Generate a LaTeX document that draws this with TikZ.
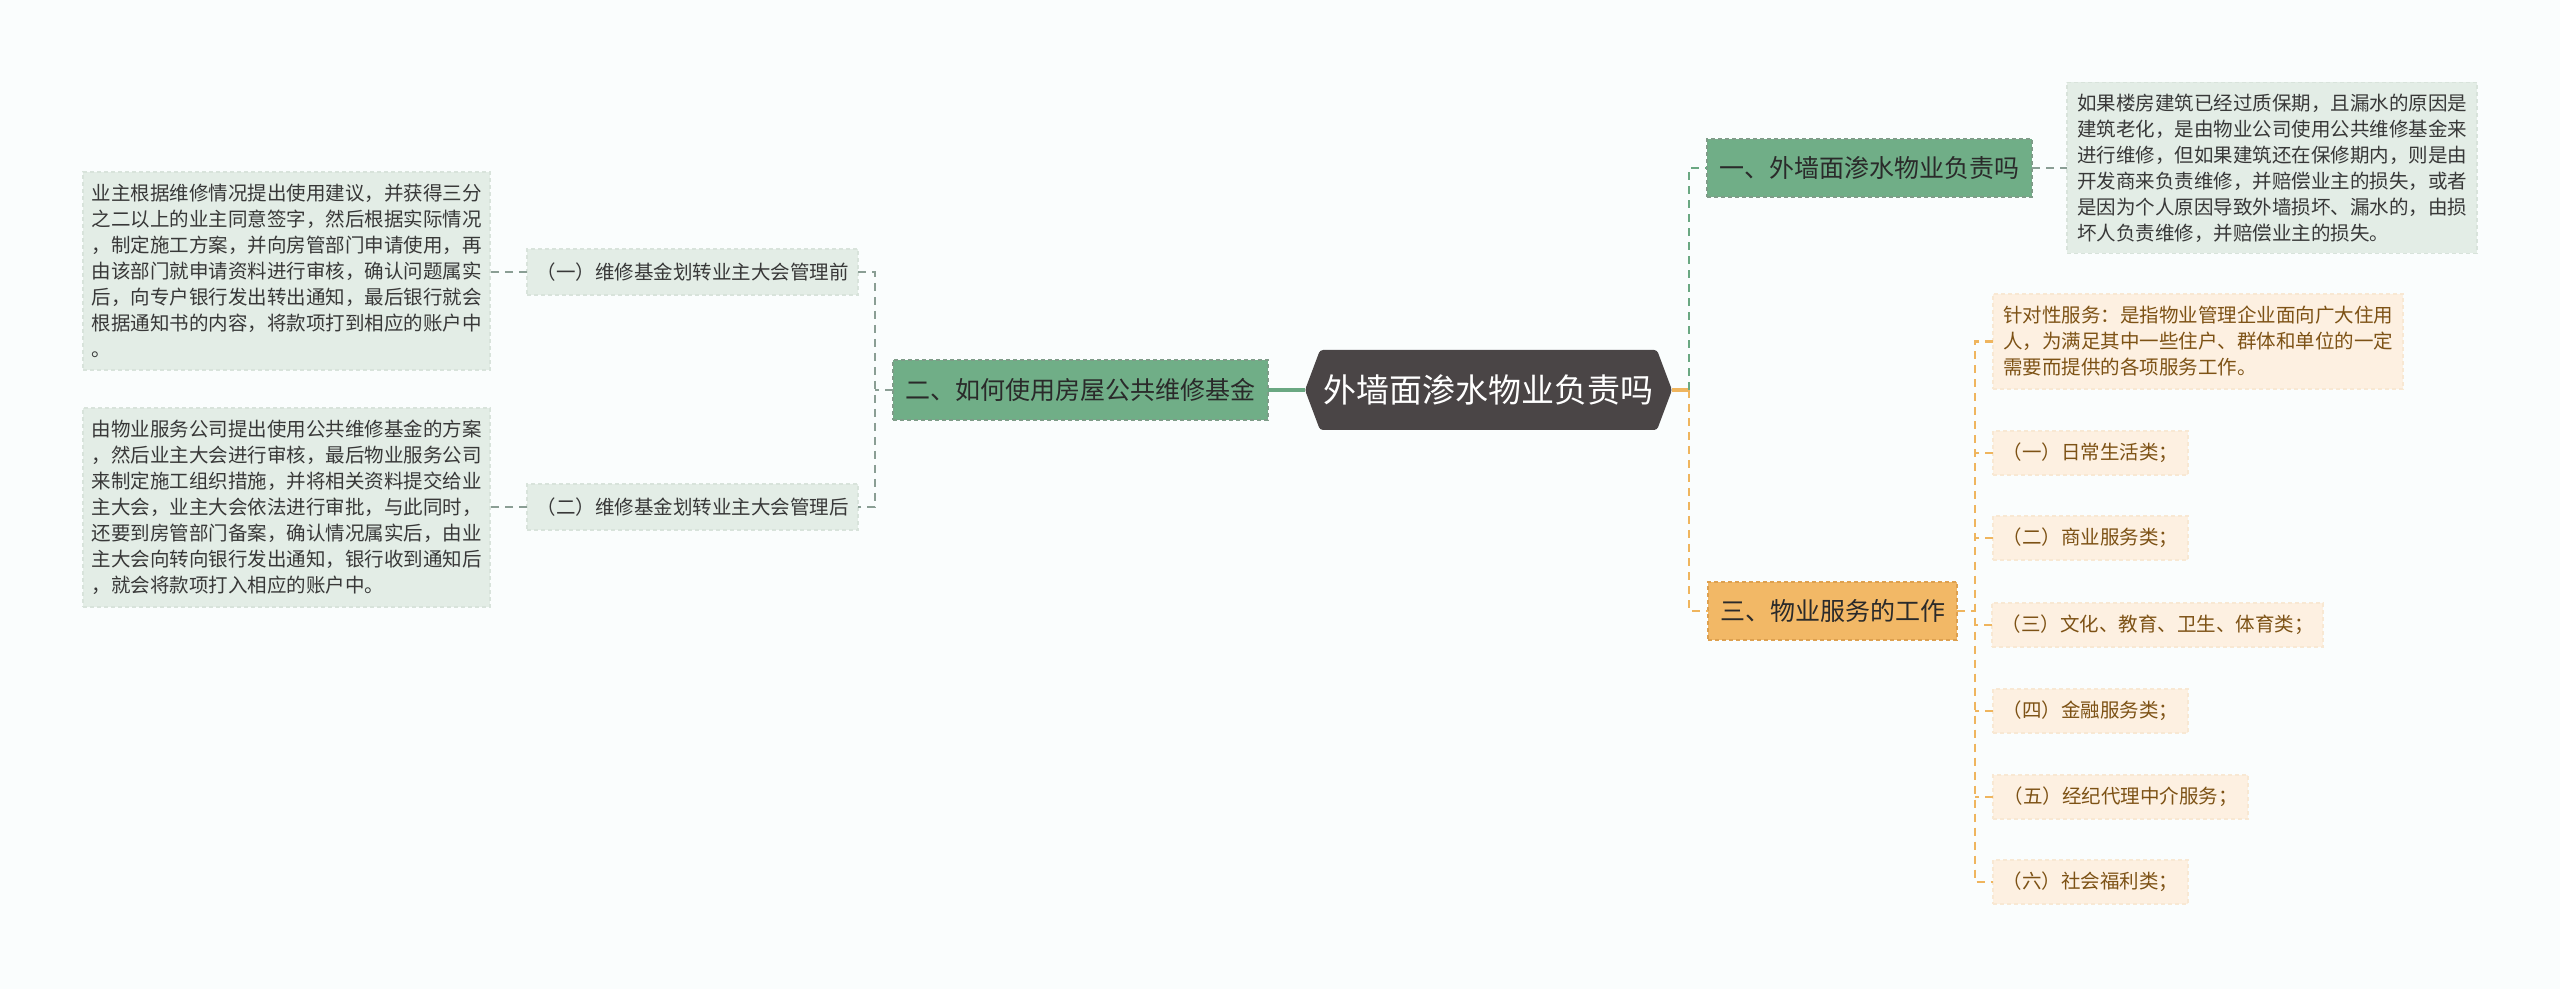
\documentclass[tikz,border=0pt]{standalone}
\usepackage{fontspec}
\setmainfont{Noto Sans CJK SC}
\definecolor{bgc}{HTML}{FAFDFD}
\definecolor{rootc}{HTML}{4A4546}
\definecolor{gfill}{HTML}{70AE87}
\definecolor{gborder}{HTML}{7E9C88}
\definecolor{lgfill}{HTML}{E3EDE6}
\definecolor{lgborder}{HTML}{D8E3DB}
\definecolor{ofill}{HTML}{F2B866}
\definecolor{oborder}{HTML}{DDA04F}
\definecolor{lofill}{HTML}{FDF0E1}
\definecolor{loborder}{HTML}{F8E8D3}
\definecolor{otext}{HTML}{7D5215}
\definecolor{grayconn}{HTML}{8A9E94}
\definecolor{greenconn}{HTML}{6AA882}
\definecolor{orconn}{HTML}{EFB55E}
\definecolor{darktext}{HTML}{2A2A2A}
\definecolor{boxtext}{HTML}{383838}
\begin{document}
\begin{tikzpicture}[x=0.5pt,y=-0.5pt,
  every node/.style={inner sep=0pt, outer sep=0pt, font=\fontsize{9.75}{13}\selectfont},
  rootnode/.style={minimum width=183.5pt, minimum height=40pt, text=white, font=\fontsize{16.5}{20}\selectfont},
  gmain/.style={fill=gfill, draw=gborder, line width=0.6pt, dash pattern=on 2pt off 1.5pt, text=darktext, font=\fontsize{12.5}{15}\selectfont, minimum height=29pt},
  omain/.style={fill=ofill, draw=oborder, line width=0.6pt, dash pattern=on 2pt off 1.5pt, text=darktext, font=\fontsize{12.5}{15}\selectfont, minimum height=29pt},
  gleaf/.style={fill=lgfill, draw=lgborder, line width=0.6pt, dash pattern=on 2pt off 1.5pt, text=boxtext, align=left},
  oleaf/.style={fill=lofill, draw=loborder, line width=0.6pt, dash pattern=on 2pt off 1.5pt, text=otext, align=left},
  lconn/.style={draw=grayconn, line width=1.4pt, dash pattern=on 4pt off 3pt},
  gconn/.style={draw=greenconn, line width=1.4pt, dash pattern=on 4pt off 3pt},
  oconn/.style={draw=orconn, line width=1.4pt, dash pattern=on 4pt off 3pt},
  gsolid/.style={draw=greenconn, line width=1.6pt},
  osolid/.style={draw=orconn, line width=1.6pt}]
\useasboundingbox[fill=bgc] (0,0) rectangle (2560,989);

% root hexagon
\fill[rootc, rounded corners=1.5pt] (1305,390) -- (1320,350) -- (1657,350) -- (1672,390) -- (1657,430) -- (1320,430) -- cycle;
\node[rootnode] (root) at (1488.5,390) {外墙面渗水物业负责吗};

% left branch
\node[gmain, minimum width=187.5pt, minimum height=30pt] (b2) at (1080.5,390) {二、如何使用房屋公共维修基金};
\node[gleaf, minimum width=165.5pt, minimum height=23pt] (c21) at (692.5,272) {（一）维修基金划转业主大会管理前};
\node[gleaf, minimum width=165.5pt, minimum height=23pt] (c22) at (692.5,507) {（二）维修基金划转业主大会管理后};
\node[gleaf, minimum width=203.5pt, minimum height=99pt] (t21) at (286.5,271) {业主根据维修情况提出使用建议，并获得三分\\之二以上的业主同意签字，然后根据实际情况\\，制定施工方案，并向房管部门申请使用，再\\由该部门就申请资料进行审核，确认问题属实\\后，向专户银行发出转出通知，最后银行就会\\根据通知书的内容，将款项打到相应的账户中\\。};
\node[gleaf, minimum width=203.5pt, minimum height=99.5pt] (t22) at (286.5,507.5) {由物业服务公司提出使用公共维修基金的方案\\，然后业主大会进行审核，最后物业服务公司\\来制定施工组织措施，并将相关资料提交给业\\主大会，业主大会依法进行审批，与此同时，\\还要到房管部门备案，确认情况属实后，由业\\主大会向转向银行发出通知，银行收到通知后\\，就会将款项打入相应的账户中。};

% right upper branch
\node[gmain, minimum width=162.5pt] (b1) at (1869.5,168) {一、外墙面渗水物业负责吗};
\node[gleaf, minimum width=205pt, minimum height=85.5pt] (t11) at (2272,168) {如果楼房建筑已经过质保期，且漏水的原因是\\建筑老化，是由物业公司使用公共维修基金来\\进行维修，但如果建筑还在保修期内，则是由\\开发商来负责维修，并赔偿业主的损失，或者\\是因为个人原因导致外墙损坏、漏水的，由损\\坏人负责维修，并赔偿业主的损失。};

% right lower branch
\node[omain, minimum width=124.5pt] (b3) at (1832.5,611) {三、物业服务的工作};
\node[oleaf, minimum width=205pt, minimum height=47.5pt] (o0) at (2198,341.5) {针对性服务：是指物业管理企业面向广大住用\\人，为满足其中一些住户、群体和单位的一定\\需要而提供的各项服务工作。};
\node[oleaf, minimum width=97.5pt, minimum height=22pt] (o1) at (2090.5,453) {（一）日常生活类；};
\node[oleaf, minimum width=97.5pt, minimum height=22pt] (o2) at (2090.5,538) {（二）商业服务类；};
\node[oleaf, minimum width=165.5pt, minimum height=22pt] (o3) at (2157.5,625) {（三）文化、教育、卫生、体育类；};
\node[oleaf, minimum width=97.5pt, minimum height=22pt] (o4) at (2090.5,711) {（四）金融服务类；};
\node[oleaf, minimum width=127.5pt, minimum height=22pt] (o5) at (2120.5,797) {（五）经纪代理中介服务；};
\node[oleaf, minimum width=97.5pt, minimum height=22pt] (o6) at (2090.5,882) {（六）社会福利类；};

% connectors left
\coordinate (lj) at (875,390);
\draw[gsolid] (root.west) -- (b2.east);
\draw[lconn] (b2.west) -- (lj);
\draw[lconn] (c21.east) -- (c21.east -| lj) -- (c22.east -| lj) -- (c22.east);
\draw[lconn] (c21.west) -- (t21.east |- c21.west);
\draw[lconn] (c22.west) -- (t22.east |- c22.west);

% connectors right
\coordinate (rj) at (1689,390);
\draw[osolid] (root.east) -- (rj);
\draw[gconn] (rj) |- (b1.west);
\draw[oconn] (rj) |- (b3.west);
\draw[lconn] (b1.east) -- (t11.west);

\coordinate (oj) at (1975,611);
\draw[oconn] (b3.east) -- (oj);
\draw[oconn] (o0.west) -- (o0.west -| oj) -- (o6.west -| oj) -- (o6.west);
\foreach \n in {o1,o2,o3,o4,o5} {\draw[oconn] (\n.west) -- (\n.west -| oj);}
\end{tikzpicture}
\end{document}
